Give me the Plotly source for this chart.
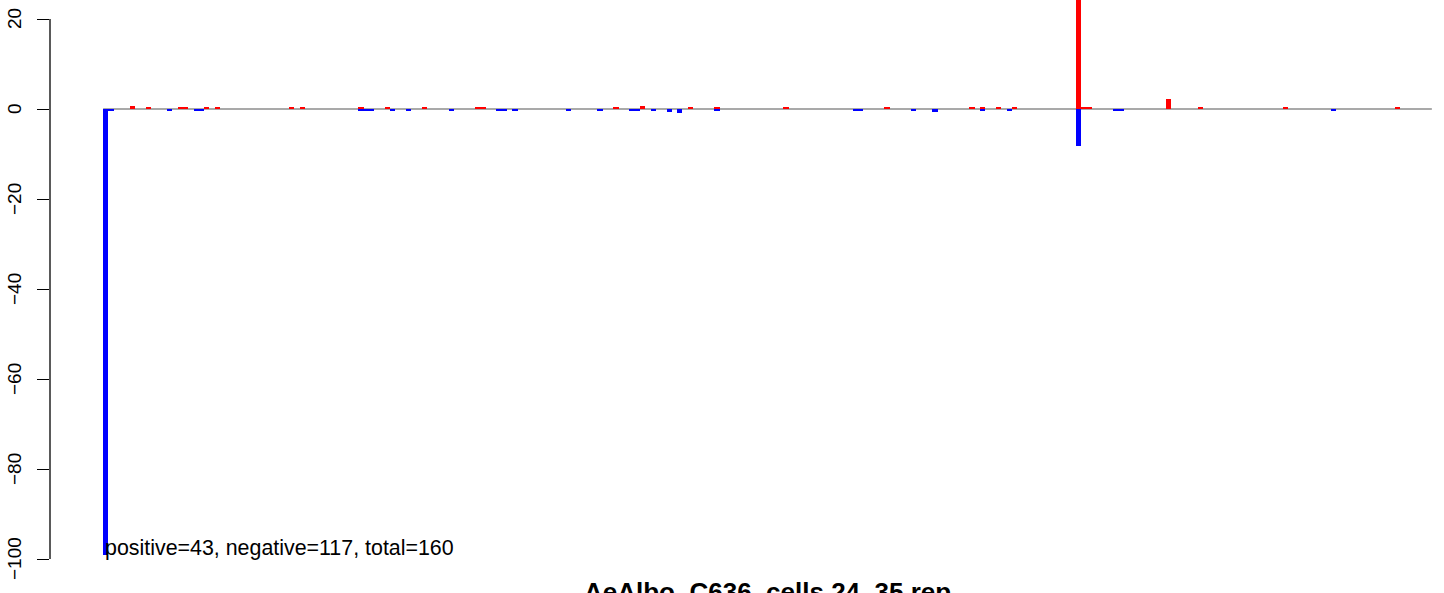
import plotly.graph_objects as go

# ---- data ----
n_bars = 250
pos_index = [5, 8, 14, 15, 19, 21, 35, 37, 48, 53, 60, 70, 71, 96, 101, 110, 115,
             128, 147, 163, 165, 168, 171, 183, 184, 185, 200, 206, 222, 243]
pos_value = [0.65, 0.25, 0.25, 0.25, 0.25, 0.25, 0.25, 0.25, 0.3, 0.3, 0.45, 0.45, 0.25,
             0.25, 0.65, 0.25, 0.45, 0.25, 0.25, 0.25, 0.25, 0.45, 0.25, 28.0, 0.25, 0.25,
             2.2, 0.25, 0.25, 0.25]
neg_index = [0, 1, 12, 17, 18, 48, 49, 50, 54, 57, 65, 74, 75, 77, 87, 93, 99, 100, 103,
             106, 108, 115, 141, 142, 152, 156, 165, 170, 183, 190, 191, 231]
neg_value = [-99.2, -0.25, -0.25, -0.25, -0.25, -0.4, -0.25, -0.25, -0.25, -0.45, -0.45, -0.45,
             -0.25, -0.25, -0.25, -0.25, -0.25, -0.25, -0.25, -0.65, -0.9, -0.45, -0.25, -0.25,
             -0.45, -0.65, -0.25, -0.25, -8.2, -0.25, -0.25, -0.25]
y_ticks = [-100, -80, -60, -40, -20, 0, 20]
y_tick_labels = ["\u2212100", "\u221280", "\u221260", "\u221240", "\u221220", "0", "20"]
note_text = "positive=43, negative=117, total=160"
title_text = "AeAlbo_C636_cells 24_35 rep"

# ---- build full series ----
pos = [0.0] * n_bars
neg = [0.0] * n_bars
for i, v in zip(pos_index, pos_value):
    pos[i] = v
for i, v in zip(neg_index, neg_value):
    neg[i] = v
xs = list(range(n_bars))

W, H = 1444, 593
ML, MR, MT, MB = 50, 0, 0, 16
plot_w = W - ML - MR
plot_h = H - MT - MB

# R-like x extent: bars span [-0.5, n-0.5], region extended 4% each side
x_lo = -0.5 - 0.04 * n_bars
full_units = n_bars * 1.08
full_px = 1435.0
x_hi = x_lo + full_units * plot_w / full_px

# y scale: 4.5 px per unit, zero at 109 px from top
px_per_unit = 4.5
zero_px = 109.0
y_hi = (zero_px - MT) / px_per_unit
y_lo = -(MT + plot_h - zero_px) / px_per_unit

FONT = "Liberation Sans, Arial, Helvetica, sans-serif"

fig = go.Figure()
fig.add_trace(go.Bar(x=xs, y=pos, width=1.0, marker=dict(color="#ff0000", line=dict(width=0)),
                     showlegend=False, hoverinfo="skip"))
fig.add_trace(go.Bar(x=xs, y=neg, width=1.0, marker=dict(color="#0000ff", line=dict(width=0)),
                     showlegend=False, hoverinfo="skip"))

fig.update_layout(
    width=W, height=H,
    margin=dict(l=ML, r=MR, t=MT, b=MB, pad=0),
    paper_bgcolor="white", plot_bgcolor="white",
    barmode="overlay", bargap=0,
    xaxis=dict(range=[x_lo, x_hi], visible=False, showgrid=False, zeroline=False),
    yaxis=dict(range=[y_lo, y_hi], tickvals=y_ticks, ticks="outside", ticklen=12,
               tickwidth=1.3, tickcolor="black", showticklabels=False,
               showgrid=False, zeroline=False, showline=False),
)

# zero reference line across the bar range (drawn under bars)
fig.add_shape(type="line", xref="x", yref="y", x0=-0.5, x1=n_bars - 0.5, y0=0, y1=0,
              line=dict(color="#8c8c8c", width=1.6), layer="below")
# y axis line from first to last tick (R style)
fig.add_shape(type="line", xref="paper", yref="y", x0=0, x1=0,
              y0=min(y_ticks), y1=max(y_ticks), line=dict(color="black", width=1.3))

for v, lab in zip(y_ticks, y_tick_labels):
    fig.add_annotation(x=0, xref="paper", xshift=-36, y=v, yref="y", text=lab,
                       textangle=-90, showarrow=False, xanchor="center", yanchor="middle",
                       font=dict(family=FONT, size=19, color="black"))

fig.add_annotation(x=-0.5, xref="x", y=-97.6, yref="y", text=note_text, showarrow=False,
                   xanchor="left", yanchor="middle",
                   font=dict(family=FONT, size=21.4, color="black"))

title_x = (767.5 - ML) / plot_w
title_y = (plot_h + MT - 592) / plot_h
fig.add_annotation(x=title_x, xref="paper", y=title_y, yref="paper", text=title_text,
                   showarrow=False, xanchor="center", yanchor="middle",
                   font=dict(family=FONT, size=26, color="black", weight="bold"))

fig.write_html("out.html",
               config={"displayModeBar": False},
               post_script="document.body.style.margin='0';document.body.style.overflow='hidden';")
